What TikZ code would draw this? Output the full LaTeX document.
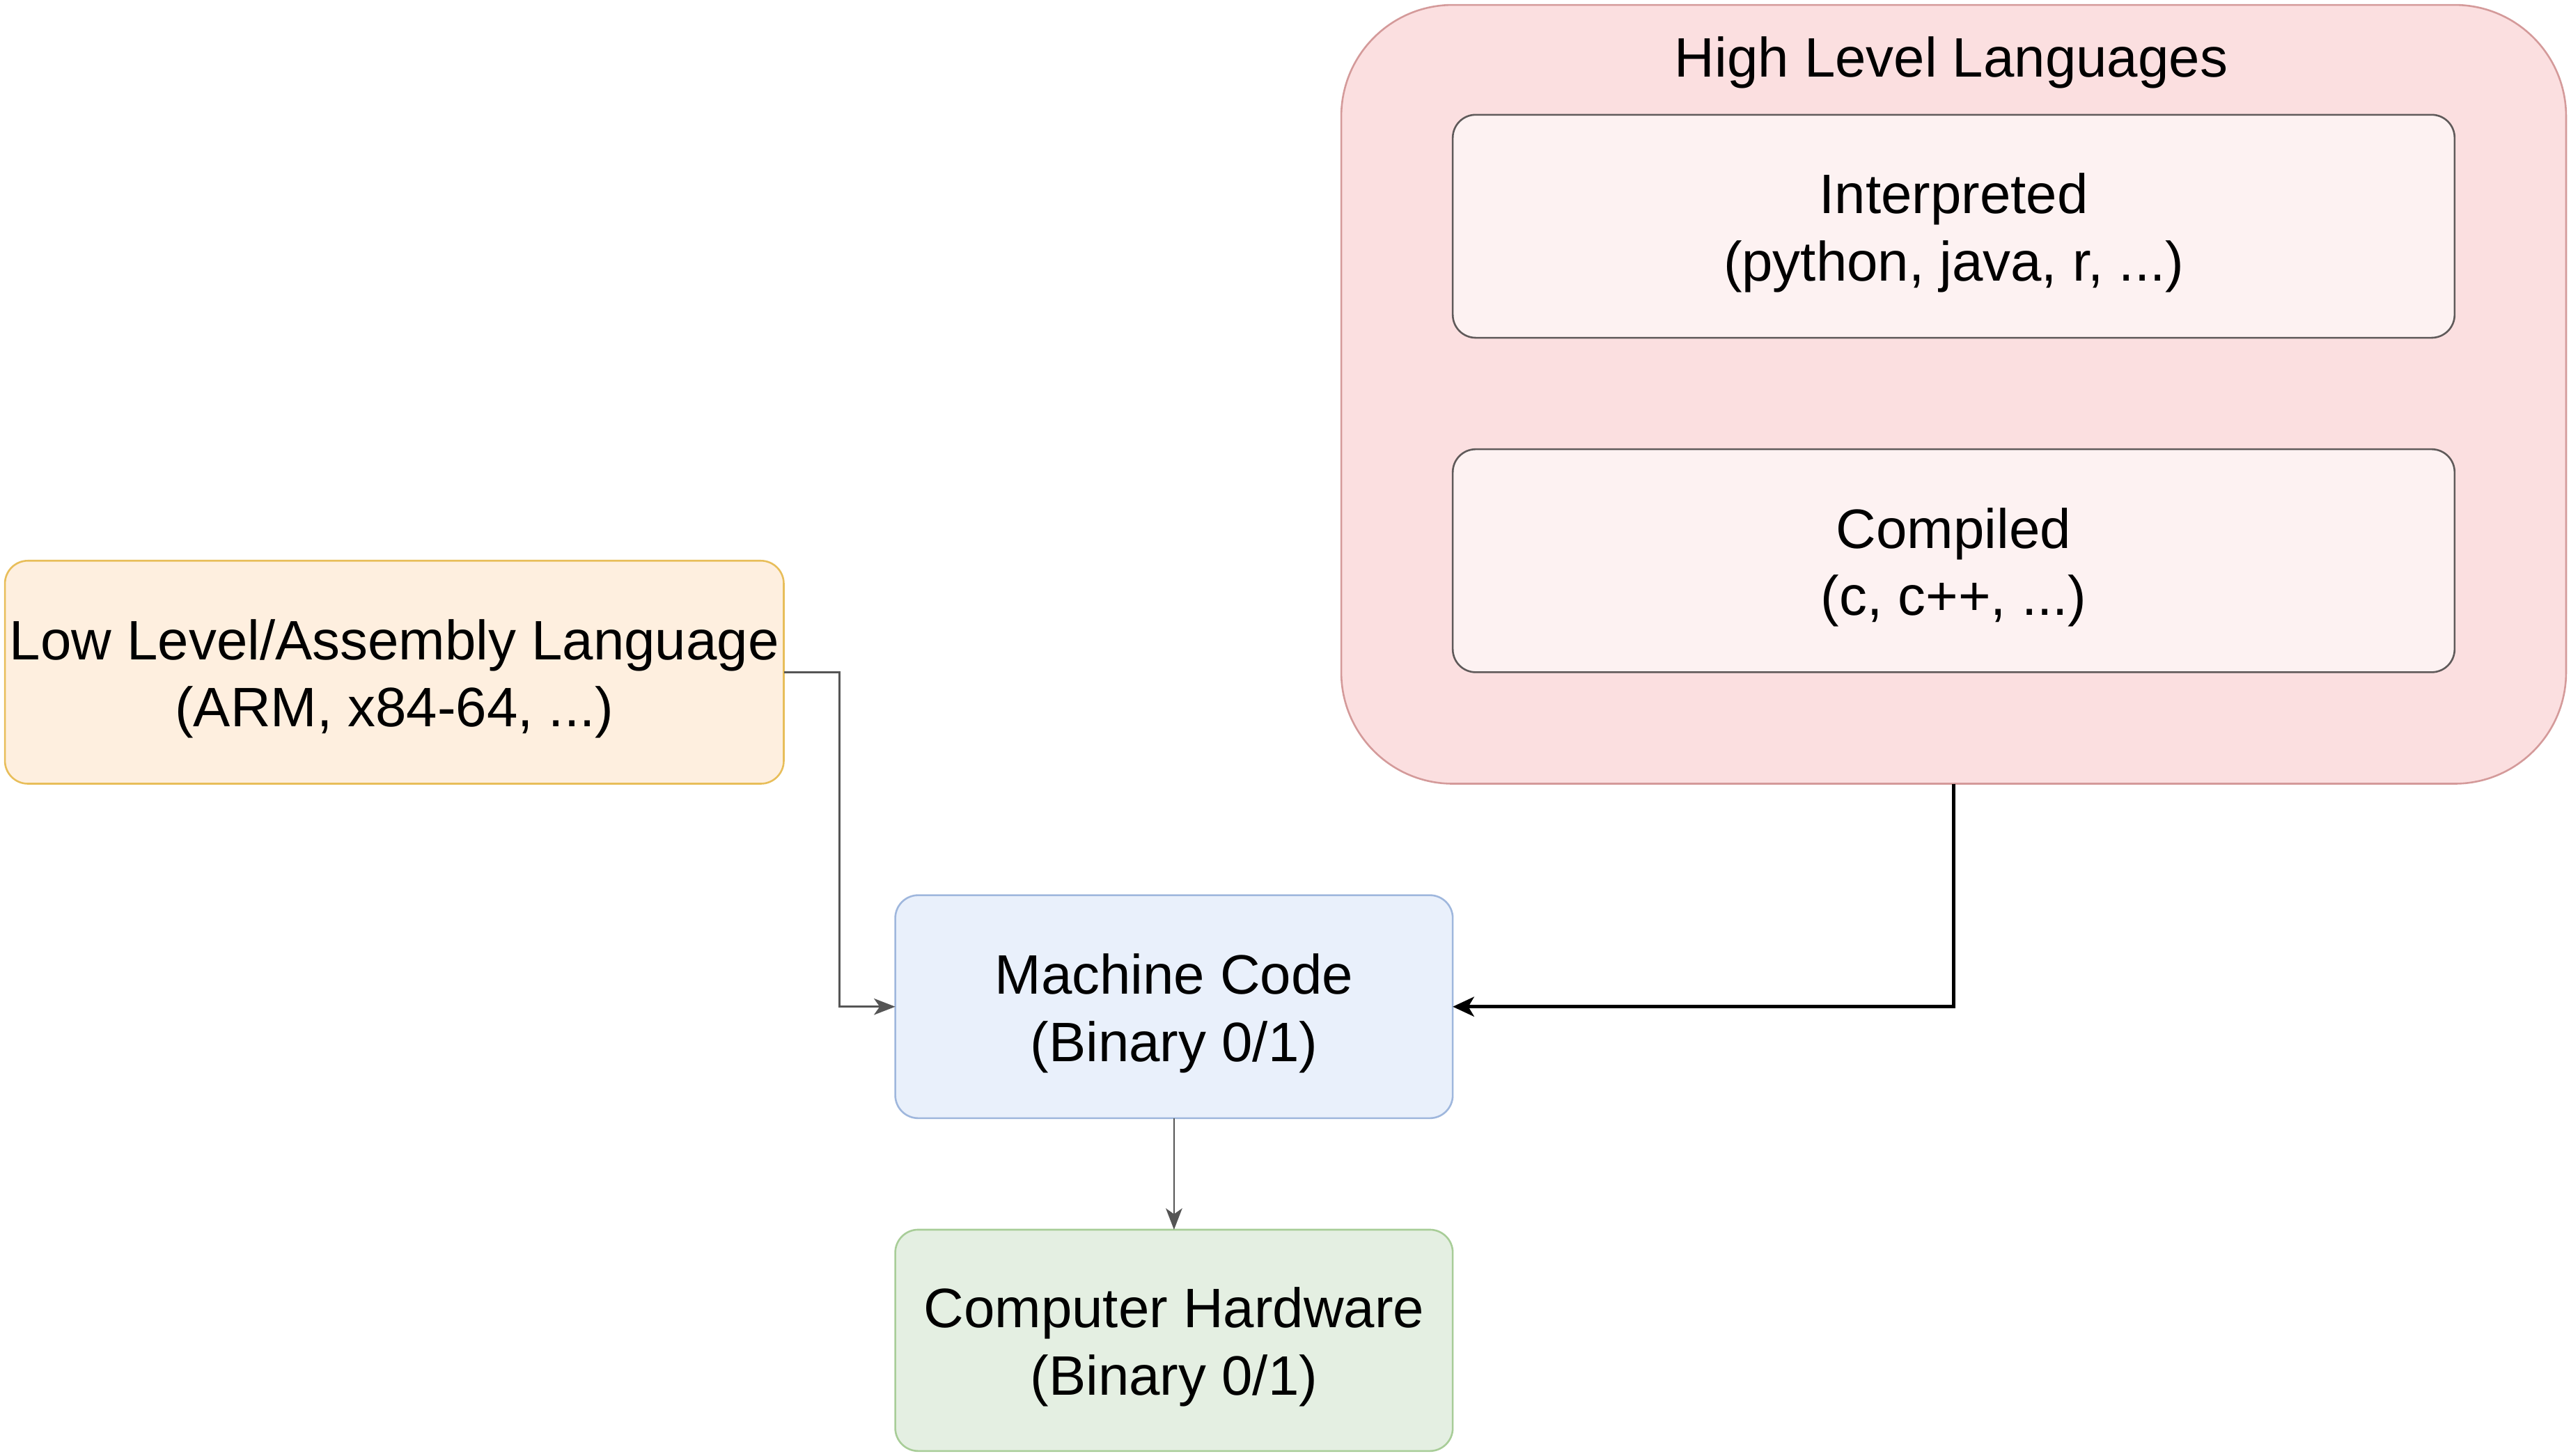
\documentclass[tikz,border=0pt]{standalone}
\usepackage{fontspec}
\setmainfont{Liberation Sans}
\usetikzlibrary{arrows.meta}
\definecolor{lowfill}{HTML}{FEEFDF}
\definecolor{lowdraw}{HTML}{E8BE5A}
\definecolor{mcfill}{HTML}{E9F0FB}
\definecolor{mcdraw}{HTML}{9FB7DD}
\definecolor{hwfill}{HTML}{E4EFE2}
\definecolor{hwdraw}{HTML}{A8CD98}
\definecolor{hlfill}{HTML}{FBDFE0}
\definecolor{hldraw}{HTML}{D49A9A}
\definecolor{infill}{HTML}{FDF2F2}
\definecolor{indraw}{HTML}{5F5A5A}
\definecolor{arrgrey}{HTML}{555555}
\begin{document}
\begin{tikzpicture}[x=1pt,y=-1pt,
  every node/.style={inner sep=0pt,outer sep=0pt,align=center,
    font=\fontsize{33.9pt}{41pt}\selectfont},
  boxstyle/.style={draw,line width=1.1pt,rounded corners=14pt,anchor=center},
  boxtext/.style={yshift=-4pt},
  greyarrow/.style={draw=arrgrey,line width=1.1pt,
    -{Stealth[length=13pt,width=10pt,inset=3.5pt,fill=arrgrey]}},
  blackarrow/.style={draw=black,line width=2pt,
    -{Stealth[length=13pt,width=12pt,inset=3.5pt]}}]
\useasboundingbox (0,0) rectangle (1568,888);
% high level container
\node[boxstyle,fill=hlfill,draw=hldraw,rounded corners=68pt,
  minimum width=747pt,minimum height=475pt] (hl) at (1191.5,240.5) {};
\node (hltitle) at (1190,38) {High Level Languages};
\node[boxstyle,fill=infill,draw=indraw,minimum width=611pt,minimum height=136pt]
  (interp) at (1191.5,138) {};
\node[boxtext] (interptext) at (interp) {Interpreted\\(python, java, r, ...)};
\node[boxstyle,fill=infill,draw=indraw,minimum width=611pt,minimum height=136pt]
  (comp) at (1191.5,342) {};
\node[boxtext] (comptext) at (comp) {Compiled\\(c, c++, ...)};
% low level
\node[boxstyle,fill=lowfill,draw=lowdraw,minimum width=475pt,minimum height=136pt]
  (low) at (240.5,410) {};
\node[boxtext] (lowtext) at (low) {Low Level/Assembly Language\\(ARM, x84-64, ...)};
% machine code
\node[boxstyle,fill=mcfill,draw=mcdraw,minimum width=340pt,minimum height=136pt]
  (mc) at (716,614) {};
\node[boxtext] (mctext) at (mc) {Machine Code\\(Binary 0/1)};
% hardware
\node[boxstyle,fill=hwfill,draw=hwdraw,minimum width=340pt,minimum height=135pt]
  (hw) at (716,817.5) {};
\node[boxtext] (hwtext) at (hw) {Computer Hardware\\(Binary 0/1)};
% connectors
\draw[greyarrow] (low.east) -- ++(34,0) |- (mc.west);
\draw[blackarrow] (hl.south) |- (mc.east);
\draw[greyarrow] (mc.south) -- (hw.north);
\end{tikzpicture}
\end{document}
